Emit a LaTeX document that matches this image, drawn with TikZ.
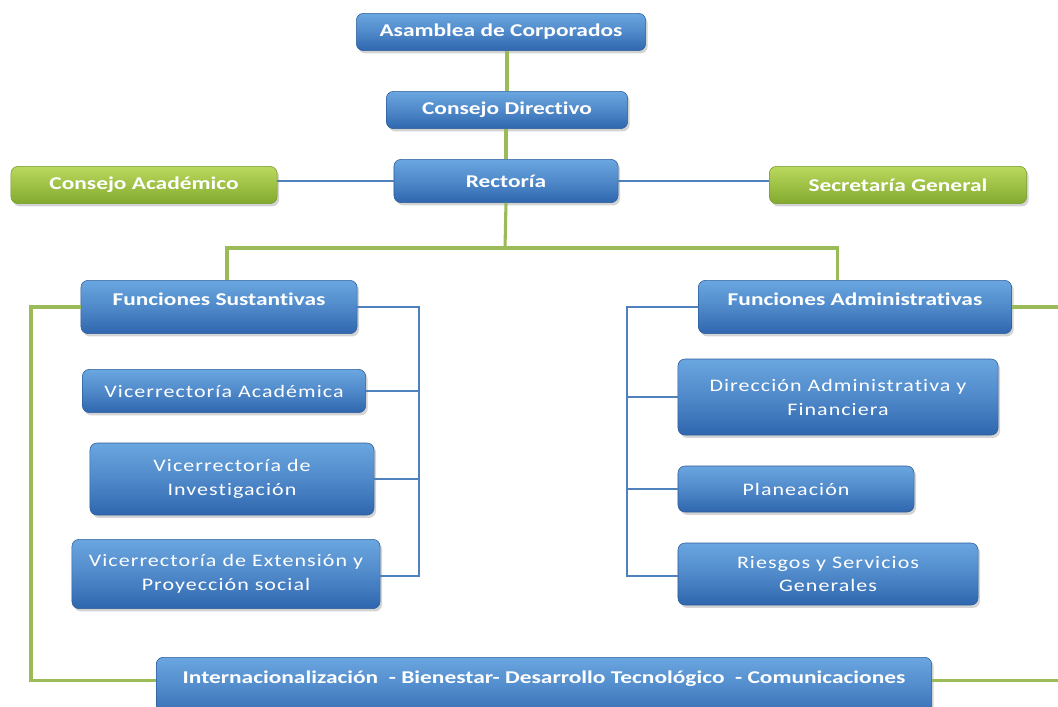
\documentclass[tikz,border=0pt]{standalone}
\usepackage{fontspec}
\setmainfont{Carlito}[FakeStretch=1.3,Ligatures=NoCommon]
\newfontfamily\subfont{Carlito}[FakeStretch=1.25,LetterSpace=6,Ligatures=NoCommon]
\usepackage{tikz}
\usetikzlibrary{positioning,shadows}

\definecolor{boxtop}{HTML}{6AA6E0}
\definecolor{boxbot}{HTML}{2F66AE}
\definecolor{boxline}{HTML}{2C5C9A}
\definecolor{greentop}{HTML}{BAD85E}
\definecolor{greenbot}{HTML}{82AA2E}
\definecolor{greenedge}{HTML}{739A2A}
\definecolor{railgreen}{HTML}{9BBB59}
\definecolor{railblue}{HTML}{4F81BD}

\tikzset{
  bluebox/.style={draw=boxline, rounded corners=5pt, top color=boxtop, bottom color=boxbot,
    middle color=boxtop!55!boxbot, text=white, align=center, inner sep=2pt,
    drop shadow={shadow xshift=0.05cm, shadow yshift=-0.07cm, opacity=0.35},
    font=\fontsize{12.8}{17}\selectfont\bfseries},
  greenbox/.style={bluebox, draw=greenedge, top color=greentop, bottom color=greenbot,
    middle color=greentop!50!greenbot},
  subbox/.style={bluebox, font=\fontsize{12.5}{17}\selectfont\subfont},
  greenline/.style={draw=railgreen, line width=2.2pt},
  blueline/.style={draw=railblue, line width=0.9pt}
}

\begin{document}
\begin{tikzpicture}[x=0.025cm, y=-0.025cm]
  \clip (0,0) rectangle (1058,706);

  % nodes
  \node[bluebox, minimum width=7.23cm, minimum height=0.93cm] (asamblea) at (501,32) {Asamblea de Corporados};
  \node[bluebox, minimum width=6.03cm, minimum height=0.93cm] (directivo) at (507,110) {Consejo Directivo};
  \node[bluebox, minimum width=5.6cm, minimum height=1.08cm] (rectoria) at (506,181) {Rectoría};
  \node[greenbox, minimum width=6.65cm, minimum height=0.93cm] (academico) at (144,185) {Consejo Académico};
  \node[greenbox, minimum width=6.43cm, minimum height=0.93cm] (secretaria) at (898,185) {Secretaría General};

  \node[bluebox, minimum width=6.9cm, minimum height=1.33cm, text depth=0.38cm] (sustantivas) at (219,307) {Funciones Sustantivas};
  \node[bluebox, minimum width=7.83cm, minimum height=1.33cm, text depth=0.38cm] (administrativas) at (855,307) {Funciones Administrativas};

  \node[subbox, minimum width=7.08cm, minimum height=1.08cm] (vacad) at (224,391) {Vicerrectoría Académica};
  \node[subbox, minimum width=7.1cm, minimum height=1.8cm] (vinv) at (232,479) {Vicerrectoría de\\Investigación};
  \node[subbox, minimum width=7.7cm, minimum height=1.73cm] (vext) at (226,574) {Vicerrectoría de Extensión y\\Proyección social};

  \node[subbox, minimum width=8cm, minimum height=1.9cm] (dirad) at (838,397) {Dirección Administrativa y\\Financiera};
  \node[subbox, minimum width=5.9cm, minimum height=1.15cm] (planea) at (796,489) {Planeación};
  \node[subbox, minimum width=7.5cm, minimum height=1.55cm] (riesgos) at (828,574) {Riesgos y Servicios\\Generales};

  \node[bluebox, anchor=north, minimum width=19.38cm, text height=0.45cm, text depth=0.75cm, inner sep=0.2cm]
    (transversal) at (544,657) {Internacionalización \ - Bienestar- Desarrollo Tecnológico \ - Comunicaciones};

  \coordinate (bus) at (505,248);
  \coordinate (sbar) at (419,576);
  \coordinate (abar) at (627,576);
  \coordinate (lrail) at (31,0);
  \coordinate (rrail) at (1075,0);

  % connectors
  \draw[greenline] (asamblea.south -| directivo.north) -- (directivo.north);
  \draw[greenline] (directivo.south -| rectoria.north) -- (rectoria.north);
  \draw[greenline] (rectoria.south) -- (bus);
  \draw[greenline] (bus) -| ([xshift=0.2cm]sustantivas.north);
  \draw[greenline] (bus) -| ([xshift=-0.43cm]administrativas.north);

  \draw[blueline] (rectoria.west) -- (rectoria.west -| academico.east);
  \draw[blueline] (rectoria.east) -- (rectoria.east -| secretaria.west);

  \draw[blueline] (sustantivas.east) -| (sbar) -- (sbar -| vext.east);
  \draw[blueline] (vacad.east) -- (vacad.east -| sbar);
  \draw[blueline] (vinv.east) -- (vinv.east -| sbar);

  \draw[blueline] (administrativas.west) -| (abar) -- (abar -| riesgos.west);
  \draw[blueline] (dirad.west) -- (dirad.west -| abar);
  \draw[blueline] (planea.west) -- (planea.west -| abar);

  \draw[greenline] (sustantivas.west) -| ([yshift=0.23cm]lrail |- transversal.west) -- ([yshift=0.23cm]transversal.west);
  \draw[greenline] (administrativas.east) -| ([yshift=0.23cm]rrail |- transversal.east) -- ([yshift=0.23cm]transversal.east);
\end{tikzpicture}
\end{document}
